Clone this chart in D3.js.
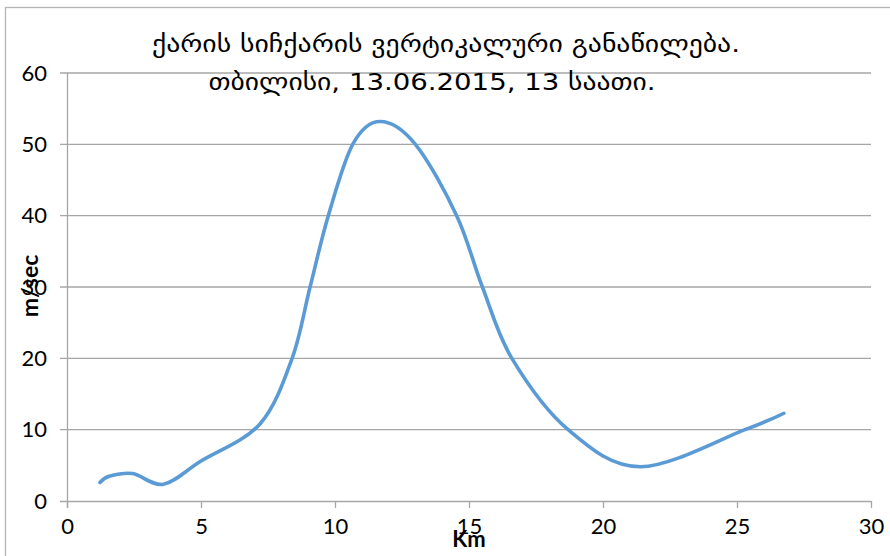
<!DOCTYPE html>
<html>
<head>
<meta charset="utf-8">
<script src="https://cdn.jsdelivr.net/npm/d3@7"></script>
<style>
  html, body { margin: 0; padding: 0; background: #fff; }
  svg { display: block; }
</style>
</head>
<body>
<svg id="chart" width="890" height="556"></svg>
<script>
// Wind speed profile: height (km) and speed (m/sec)
const heightKm = [1.23, 1.6, 2.45, 3.6, 5.0, 7.2, 8.4, 9.07, 9.75, 10.66, 11.68, 13.0, 14.54, 15.5, 16.6, 18.7, 21.4, 25.3, 26.75];
const speedMs  = [2.6, 3.5, 3.85, 2.35, 5.6, 10.8, 20.0, 30.0, 40.0, 50.0, 53.2, 50.0, 40.0, 30.0, 20.0, 10.0, 4.8, 10.0, 12.3];

const xTicks = [0, 5, 10, 15, 20, 25, 30];
const yTicks = [0, 10, 20, 30, 40, 50, 60];

const titleLines = ["ქარის სიჩქარის ვერტიკალური განაწილება.", "თბილისი, 13.06.2015, 13 საათი."];
const xLabel = "Km";
const yLabel = "m/sec";

const svg = d3.select("#chart");
const W = 890, H = 556;
const plot = { left: 67, right: 871, top: 73, bottom: 501 };

const x = d3.scaleLinear().domain([0, 30]).range([plot.left, plot.right]);
const y = d3.scaleLinear().domain([0, 60]).range([plot.bottom, plot.top]);

const gridColor = "#a6a6a6";
const tickFont = "Lato, 'Open Sans', sans-serif";

// outer chart frame
svg.append("rect")
  .attr("x", 5.5).attr("y", 7.5)
  .attr("width", W + 20).attr("height", H + 20)
  .attr("fill", "none").attr("stroke", "#b4b4b4").attr("stroke-width", 1.3);

// horizontal gridlines (with tick stubs to the left of the axis)
svg.append("g")
  .selectAll("line")
  .data(yTicks.filter(d => d > 0))
  .join("line")
  .attr("x1", plot.left - 7).attr("x2", plot.right)
  .attr("y1", d => y(d)).attr("y2", d => y(d))
  .attr("stroke", gridColor).attr("stroke-width", 1.3);

// x axis
const xAxis = d3.axisBottom(x).tickValues(xTicks).tickSize(7).tickSizeOuter(0).tickPadding(10);
const gx = svg.append("g").attr("transform", `translate(0,${plot.bottom})`).call(xAxis);
gx.select(".domain").attr("d", `M${plot.left - 7},0.5H${plot.right}`).attr("stroke", gridColor).attr("stroke-width", 1.3);
gx.selectAll(".tick line").attr("stroke", gridColor).attr("stroke-width", 1.3);
gx.selectAll(".tick text")
  .attr("font-family", tickFont).attr("font-size", 22).attr("fill", "#000");

// y axis
const yAxis = d3.axisLeft(y).tickValues(yTicks).tickSize(0).tickPadding(20);
const gy = svg.append("g").attr("transform", `translate(${plot.left},0)`).call(yAxis);
gy.select(".domain").attr("d", `M0.5,${plot.top}V${plot.bottom + 7}`).attr("stroke", gridColor).attr("stroke-width", 1.3);
gy.selectAll(".tick text")
  .attr("font-family", tickFont).attr("font-size", 22).attr("fill", "#000");

// smoothed wind profile line
const line = d3.line()
  .x((d, i) => x(heightKm[i]))
  .y((d, i) => y(speedMs[i]))
  .curve(d3.curveCardinal.tension(0));

svg.append("path")
  .datum(speedMs)
  .attr("d", line)
  .attr("fill", "none")
  .attr("stroke", "#5b9bd5")
  .attr("stroke-width", 3.6)
  .attr("stroke-linecap", "round")
  .attr("stroke-linejoin", "round");

// title
const titleFont = "'DejaVu Sans', sans-serif";
svg.append("text")
  .attr("x", 446).attr("y", 52)
  .attr("text-anchor", "middle")
  .attr("font-family", titleFont).attr("font-size", 23)
  .attr("textLength", 588).attr("lengthAdjust", "spacingAndGlyphs")
  .text(titleLines[0]);
svg.append("text")
  .attr("x", 432).attr("y", 90)
  .attr("text-anchor", "middle")
  .attr("font-family", titleFont).attr("font-size", 23)
  .attr("textLength", 447).attr("lengthAdjust", "spacingAndGlyphs")
  .text(titleLines[1]);

// axis titles
svg.append("text")
  .attr("x", 469).attr("y", 547)
  .attr("text-anchor", "middle")
  .attr("font-family", tickFont).attr("font-weight", "bold").attr("font-size", 22)
  .text(xLabel);

svg.append("text")
  .attr("transform", "translate(38,286) rotate(-90)")
  .attr("text-anchor", "middle")
  .attr("font-family", tickFont).attr("font-weight", "bold").attr("font-size", 23)
  .text(yLabel);
</script>
</body>
</html>
